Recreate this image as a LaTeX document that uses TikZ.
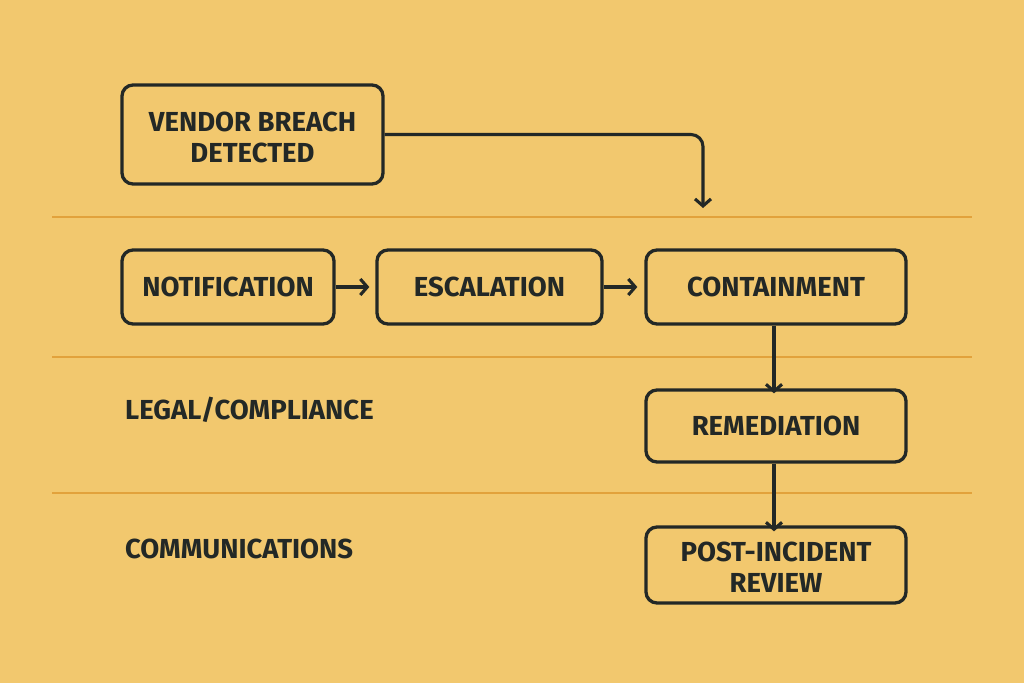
\documentclass[tikz,border=0pt]{standalone}
\usepackage{fontspec}
\setmainfont{Fira Sans}
\usetikzlibrary{arrows.meta}
\definecolor{bg}{HTML}{F2C86E}
\definecolor{lane}{HTML}{E2A23C}
\definecolor{ink}{HTML}{232826}
\tikzset{
  box/.style={draw=ink, line width=3.3pt, rounded corners=11pt, inner sep=0pt, align=center,
    font=\bfseries\fontsize{27.5}{31}\selectfont, text=ink},
  boxtext/.style={inner sep=0pt, align=center, font=\bfseries\fontsize{27.5}{31}\selectfont, text=ink},
  conn/.style={draw=ink, line width=3.1pt, -{Straight Barb[length=7pt,width=16pt,line width=3.1pt]}},
  lanelbl/.style={anchor=west, font=\bfseries\fontsize{27.5}{31}\selectfont, text=ink, inner sep=0pt},
  laneline/.style={draw=lane, line width=2pt}
}
\begin{document}
\begin{tikzpicture}[x=1pt,y=-1pt]
\fill[bg] (0,0) rectangle (1024,683);
\useasboundingbox (0,0) rectangle (1024,683);
% lane lines
\coordinate (l1a) at (52,217); \coordinate (l1b) at (972,217);
\coordinate (l2a) at (52,357); \coordinate (l2b) at (972,357);
\coordinate (l3a) at (52,493); \coordinate (l3b) at (972,493);
\draw[laneline] (l1a) -- (l1b);
\draw[laneline] (l2a) -- (l2b);
\draw[laneline] (l3a) -- (l3b);
% nodes
\node[box, minimum width=261pt, minimum height=99pt] (vendor) at (252.5,134.5) {};
\node[boxtext] (vendortxt) at (252.5,137.5) {VENDOR BREACH\\DETECTED};
\node[box, minimum width=212pt, minimum height=74pt] (notif) at (228,287) {NOTIFICATION};
\node[box, minimum width=225pt, minimum height=74pt] (esc) at (489.5,287) {ESCALATION};
\node[box, minimum width=260pt, minimum height=74pt] (cont) at (776,287) {CONTAINMENT};
\node[box, minimum width=260pt, minimum height=72pt] (rem) at (776,426) {REMEDIATION};
\node[box, minimum width=260pt, minimum height=76pt] (post) at (776,565) {};
\node[boxtext] (posttxt) at (776,567.5) {POST-INCIDENT\\REVIEW};
\node[lanelbl] (legal) at (125,409.5) {LEGAL/COMPLIANCE};
\node[lanelbl] (comm) at (125,548.5) {COMMUNICATIONS};
% connectors
\coordinate (vend) at (703,208);
\draw[conn, rounded corners=12pt] (vendor.east) -- (vendor.east -| vend) -- (vend);
\draw[conn] (notif.east) -- ([xshift=-6pt]esc.west);
\draw[conn] (esc.east) -- ([xshift=-7pt]cont.west);
\draw[conn] ([xshift=-2pt]cont.south) -- ([xshift=-2pt,yshift=-5pt]rem.north);
\draw[conn] ([xshift=-2pt]rem.south) -- ([xshift=-2pt,yshift=-6pt]post.north);
\end{tikzpicture}
\end{document}
